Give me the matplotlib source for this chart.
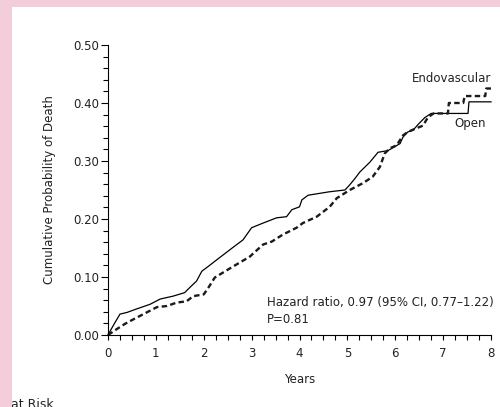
import matplotlib
matplotlib.use("Agg")
import matplotlib.pyplot as plt
from matplotlib.patches import Rectangle
from matplotlib.ticker import MultipleLocator

# 读图估计的累积死亡概率
open_years = [0, 0.08, 0.15, 0.25, 0.4, 0.6, 0.88, 1.09, 1.36, 1.6, 1.71, 1.85, 1.96, 2.09,
              2.34, 2.61, 2.82, 3.0, 3.24, 3.52, 3.73, 3.84, 4.0, 4.05, 4.18, 4.63, 4.95,
              5.05, 5.16, 5.26, 5.47, 5.64, 5.85, 6.1, 6.16, 6.26, 6.37, 6.5, 6.62, 6.75,
              7.52, 7.54, 8.0]
open_prob = [0, 0.012, 0.022, 0.036, 0.039, 0.045, 0.053, 0.062, 0.067, 0.073, 0.082, 0.093,
             0.11, 0.118, 0.134, 0.151, 0.164, 0.185, 0.193, 0.202, 0.204, 0.216, 0.221, 0.233,
             0.241, 0.247, 0.25, 0.259, 0.27, 0.281, 0.298, 0.315, 0.318, 0.33, 0.341, 0.35,
             0.353, 0.365, 0.375, 0.382, 0.382, 0.402, 0.402]

endo_years = [0, 0.18, 0.35, 0.53, 0.74, 1.02, 1.23, 1.44, 1.64, 1.78, 2.0, 2.1, 2.23, 2.61,
              2.96, 3.24, 3.42, 3.65, 3.94, 4.07, 4.36, 4.63, 4.78, 5.05, 5.33, 5.53, 5.68,
              5.78, 5.89, 6.03, 6.16, 6.26, 6.4, 6.58, 6.68, 6.8, 7.1, 7.12, 7.42, 7.45, 7.88,
              7.9, 8.0]
endo_prob = [0, 0.01, 0.019, 0.027, 0.036, 0.048, 0.05, 0.056, 0.058, 0.067, 0.07, 0.082,
             0.099, 0.118, 0.135, 0.156, 0.161, 0.173, 0.185, 0.193, 0.204, 0.221, 0.236,
             0.25, 0.262, 0.273, 0.29, 0.313, 0.322, 0.327, 0.344, 0.35, 0.355, 0.361, 0.375,
             0.382, 0.382, 0.40, 0.40, 0.412, 0.412, 0.425, 0.425]

y_ticks = [0.0, 0.1, 0.2, 0.3, 0.4, 0.5]
x_ticks = list(range(9))

PINK = "#f3cdda"
TXT = "#222222"
FS = 8.5

W, H = 500, 407
fig = plt.figure(figsize=(W / 100, H / 100), dpi=100)
fig.patch.set_facecolor("white")

# 粉色边框（左、上）
fig.patches.append(Rectangle((0, 0), 12 / W, 1, transform=fig.transFigure,
                             facecolor=PINK, edgecolor="none", zorder=10))
fig.patches.append(Rectangle((0, 1 - 7 / H), 1, 7 / H, transform=fig.transFigure,
                             facecolor=PINK, edgecolor="none", zorder=10))

ax = fig.add_axes([108 / W, 72 / H, 383 / W, 290 / H])
ax.patch.set_alpha(0)

ax.plot(open_years, open_prob, color="black", lw=0.9, clip_on=False)
ax.plot(endo_years, endo_prob, color="#1a1a1a", lw=1.7,
        linestyle=(0, (2.3, 1.4)), clip_on=False)

ax.set_xlim(0, 8)
ax.set_ylim(0, 0.5)
ax.set_xticks(x_ticks)
ax.set_xticklabels([str(v) for v in x_ticks])
ax.set_yticks(y_ticks)
ax.set_yticklabels([f"{v:.2f}" for v in y_ticks])
ax.xaxis.set_minor_locator(MultipleLocator(0.25))
ax.yaxis.set_minor_locator(MultipleLocator(0.02))

for s in ["top", "right"]:
    ax.spines[s].set_visible(False)
for s in ["left", "bottom"]:
    ax.spines[s].set_linewidth(0.8)

ax.tick_params(axis="x", which="both", direction="out", length=3.8, width=0.8,
               labelsize=FS, pad=4.5, labelcolor=TXT)
ax.tick_params(axis="y", which="major", direction="out", length=5, width=0.8,
               labelsize=FS, pad=1.5, labelcolor=TXT)
ax.tick_params(axis="y", which="minor", direction="out", length=3.5, width=0.8)

ax.set_xlabel("Years", fontsize=FS, labelpad=10, color=TXT)
ax.set_ylabel("Cumulative Probability of Death", fontsize=FS, labelpad=12.5, color=TXT)

ax.text(8.0, 0.442, "Endovascular", fontsize=FS, ha="right", va="center",
        color=TXT, clip_on=False)
ax.text(7.56, 0.365, "Open", fontsize=FS, ha="center", va="center", color=TXT, clip_on=False)
ax.text(3.32, 0.056, "Hazard ratio, 0.97 (95% CI, 0.77\u20131.22)", fontsize=FS,
        ha="left", va="center", color=TXT, clip_on=False)
ax.text(3.32, 0.027, "P=0.81", fontsize=FS, ha="left", va="center", color=TXT, clip_on=False)

fig.text(11 / W, -1 / H, "at Risk", fontsize=FS + 0.5, ha="left", va="baseline",
         color=TXT, zorder=1)

fig.savefig("out.png", dpi=100)
